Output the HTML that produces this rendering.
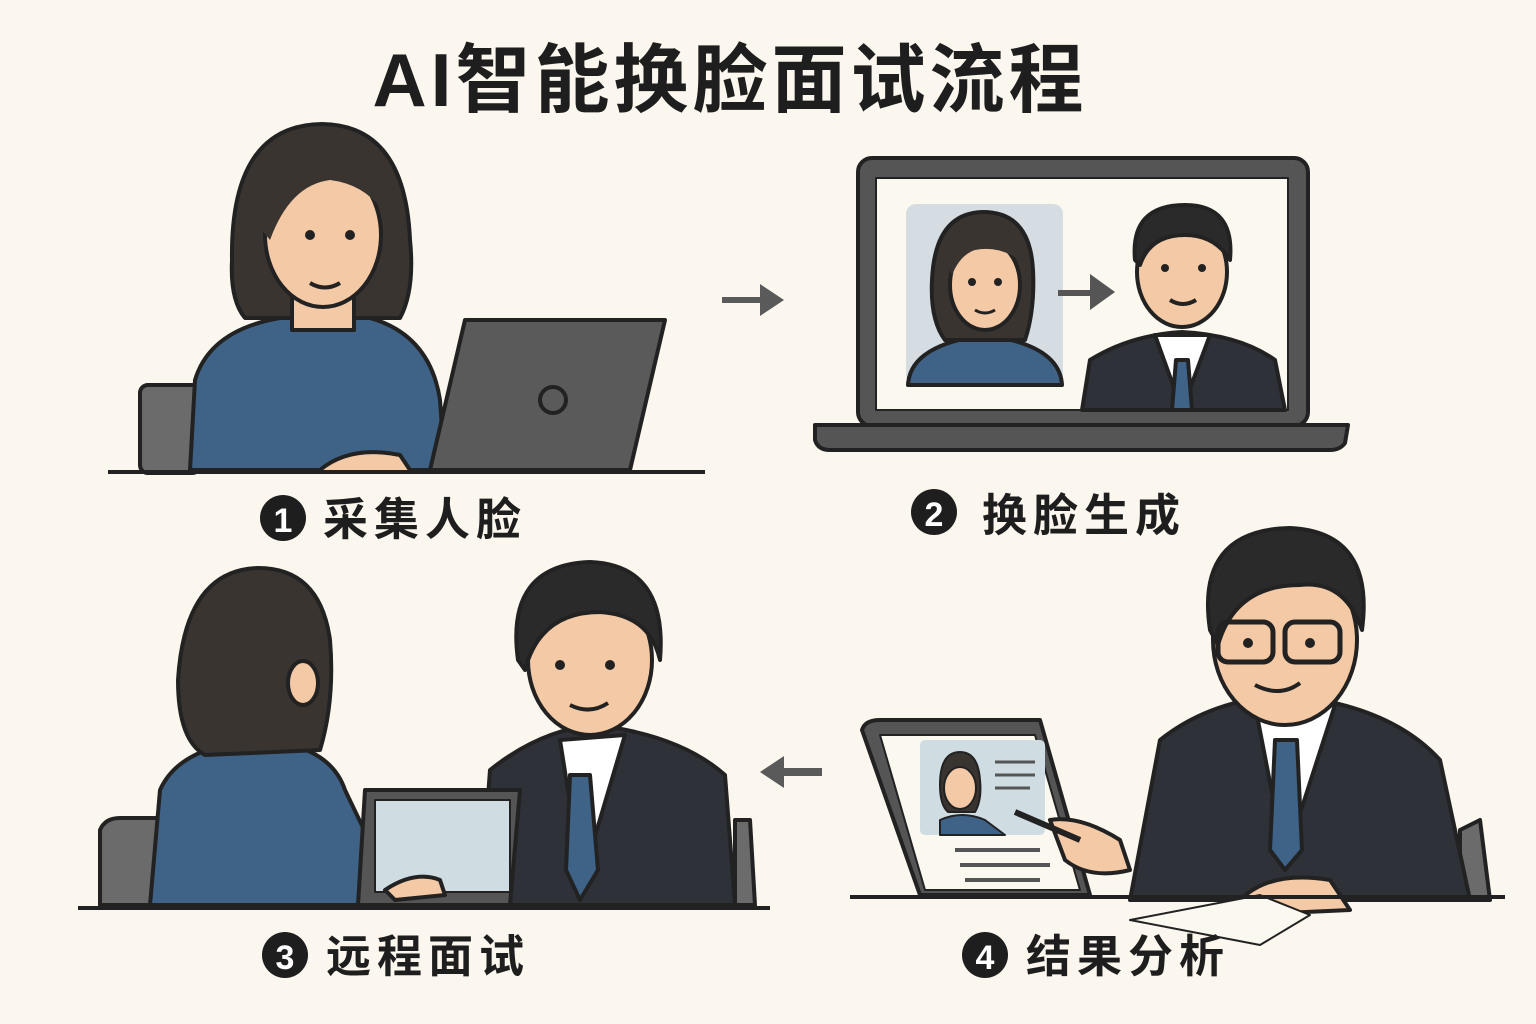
<!DOCTYPE html>
<html><head><meta charset="utf-8"><style>
html,body{margin:0;padding:0;background:#fbf7ee;}
svg{display:block}
text{font-family:"Liberation Sans","Noto Sans CJK SC",sans-serif;font-weight:bold;fill:#1e1e1e}
</style></head><body>
<svg width="1536" height="1024" viewBox="0 0 1536 1024" xmlns="http://www.w3.org/2000/svg">
<rect width="1536" height="1024" fill="#fbf7ee"/>
<text x="730" y="106" font-size="75" text-anchor="middle" letter-spacing="4">AI智能换脸面试流程</text>

<g stroke="#222" stroke-width="4" stroke-linejoin="round">
<!-- Panel 1 -->
<rect x="140" y="385" width="60" height="88" rx="8" fill="#6b6b6b"/>
<path d="M190 470 L195 380 Q210 330 280 318 L370 318 Q430 335 440 400 L445 470 Z" fill="#3f6287"/>
<path d="M322 124 Q230 125 232 260 Q230 300 245 318 L400 318 Q415 290 410 240 Q405 125 322 124Z" fill="#3a3431"/>
<rect x="292" y="280" width="62" height="50" fill="#f4c9a5"/>
<ellipse cx="323" cy="235" rx="58" ry="72" fill="#f4c9a5"/>
<path d="M262 230 Q265 160 325 158 Q385 160 388 220 Q370 185 330 180 Q290 185 270 240 Z" fill="#3a3431" stroke="none"/>
<circle cx="310" cy="235" r="5" fill="#222" stroke="none"/>
<circle cx="350" cy="235" r="5" fill="#222" stroke="none"/>
<path d="M310 283 Q325 292 340 283" fill="none"/>
<path d="M465 320 L665 320 L630 470 L430 470 Z" fill="#5a5a5a"/>
<circle cx="553" cy="400" r="13" fill="none"/>
<path d="M320 470 Q350 445 400 455 L410 470" fill="#f4c9a5"/>
<line x1="108" y1="472" x2="705" y2="472"/>
<!-- Panel 2 -->
<rect x="858" y="158" width="450" height="268" rx="14" fill="#555"/>
<rect x="876" y="178" width="412" height="232" fill="#fbf8f0" stroke-width="2"/>
<path d="M815 425 L1348 425 L1345 443 Q1340 450 1330 450 L830 450 Q818 450 815 440 Z" fill="#555"/>
<rect x="906" y="204" width="157" height="181" rx="10" fill="#d5dde3" stroke="none"/>
<path d="M908 385 Q910 345 985 335 Q1060 345 1062 385 Z" fill="#3f6287"/>
<path d="M983 212 Q935 213 932 280 Q930 320 945 340 L1025 340 Q1035 310 1033 270 Q1030 212 983 212Z" fill="#3a3431"/>
<ellipse cx="985" cy="285" rx="35" ry="45" fill="#f4c9a5"/>
<path d="M950 270 Q960 235 988 235 Q1015 237 1022 262 Q1000 245 975 250 Q960 255 952 275Z" fill="#3a3431" stroke="none"/>
<circle cx="972" cy="282" r="4" fill="#222" stroke="none"/><circle cx="998" cy="282" r="4" fill="#222" stroke="none"/>
<path d="M975 310 Q985 316 995 310" fill="none" stroke-width="3"/>
<path d="M1058 290 L1090 290 L1090 274 L1115 292 L1090 310 L1090 296 L1058 296Z" fill="#555" stroke="none"/>
<path d="M1082 410 L1090 360 Q1130 335 1182 332 Q1240 335 1275 360 L1285 410Z" fill="#2e3138"/>
<path d="M1155 335 L1182 410 L1210 335Z" fill="#fff"/>
<path d="M1176 360 L1188 360 L1192 410 L1172 410Z" fill="#3f6287"/>
<ellipse cx="1182" cy="272" rx="45" ry="55" fill="#f4c9a5"/>
<path d="M1135 260 Q1130 205 1185 205 Q1235 205 1230 260 Q1215 235 1185 235 Q1150 235 1140 265Z" fill="#2a2a2a"/>
<circle cx="1165" cy="268" r="4" fill="#222" stroke="none"/><circle cx="1202" cy="268" r="4" fill="#222" stroke="none"/>
<path d="M1170 300 Q1183 308 1196 300" fill="none"/>
<!-- Panel 3 -->
<path d="M100 830 Q105 818 120 818 L250 818 L270 905 L100 905Z" fill="#6b6b6b"/>
<path d="M150 905 L160 790 Q180 745 260 740 Q330 745 345 790 L400 905Z" fill="#3f6287"/>
<path d="M258 568 Q185 570 178 680 Q178 740 205 755 L320 750 Q335 700 330 640 Q320 568 258 568Z" fill="#3a3431"/>
<ellipse cx="303" cy="683" rx="15" ry="22" fill="#f4c9a5"/>
<path d="M735 820 L750 820 L755 905 L735 905Z" fill="#6b6b6b"/>
<path d="M480 905 L490 770 Q540 730 595 725 Q680 735 725 775 L735 905Z" fill="#2e3138"/>
<path d="M560 740 L582 880 L625 735Z" fill="#fff"/>
<path d="M570 775 L590 775 L598 870 L580 900 L566 870Z" fill="#3f6287"/>
<ellipse cx="590" cy="660" rx="62" ry="75" fill="#f4c9a5"/>
<path d="M518 660 Q505 565 590 562 Q668 565 660 660 Q650 615 600 612 Q540 612 525 670Z" fill="#2a2a2a"/>
<circle cx="560" cy="665" r="5" fill="#222" stroke="none"/><circle cx="610" cy="665" r="5" fill="#222" stroke="none"/>
<path d="M570 705 Q590 715 608 703" fill="none"/>
<path d="M365 790 L520 790 L510 905 L358 905Z" fill="#555"/>
<rect x="375" y="800" width="135" height="92" fill="#cfdde3" stroke-width="2"/>
<path d="M385 890 Q415 870 440 880 L445 895 L395 900Z" fill="#f4c9a5"/>
<line x1="78" y1="908" x2="770" y2="908"/>
<!-- Panel 4 -->
<path d="M1460 830 L1480 820 L1490 900 L1460 900Z" fill="#6b6b6b"/>
<path d="M1130 900 L1160 740 Q1210 700 1285 695 Q1390 705 1440 760 L1470 900Z" fill="#2e3138"/>
<path d="M1255 705 L1285 860 L1335 705Z" fill="#fff"/>
<path d="M1275 740 L1297 740 L1302 850 L1285 870 L1270 850Z" fill="#3f6287"/>
<ellipse cx="1285" cy="640" rx="72" ry="85" fill="#f4c9a5"/>
<path d="M1210 630 Q1195 530 1290 528 Q1375 532 1362 630 Q1345 580 1300 585 Q1235 585 1218 645Z" fill="#2a2a2a"/>
<rect x="1218" y="622" width="55" height="40" rx="10" fill="none" stroke-width="5"/>
<rect x="1285" y="622" width="55" height="40" rx="10" fill="none" stroke-width="5"/>
<circle cx="1248" cy="643" r="5" fill="#222" stroke="none"/><circle cx="1310" cy="643" r="5" fill="#222" stroke="none"/>
<path d="M1255 685 Q1280 698 1300 683" fill="none"/>
<path d="M862 730 Q865 720 880 720 L1040 720 L1090 895 L920 895Z" fill="#555"/>
<path d="M880 735 L1035 735 L1080 890 L925 890Z" fill="#fbf8f0" stroke-width="2"/>
<rect x="920" y="740" width="125" height="95" rx="5" fill="#cfdde3" stroke="none"/>
<path d="M960 752 Q940 752 940 785 Q940 805 948 812 L975 812 Q982 800 980 780 Q978 752 960 752Z" fill="#3a3431" stroke-width="2"/>
<ellipse cx="960" cy="788" rx="16" ry="21" fill="#f4c9a5" stroke-width="2"/>
<path d="M940 820 Q962 810 985 820 L1005 835 L940 835Z" fill="#3f6287" stroke-width="2"/>
<path d="M995 762 L1035 762 M995 775 L1035 775 M995 788 L1030 788" stroke="#555" stroke-width="3"/>
<path d="M955 850 L1040 850 M960 865 L1050 865 M965 880 L1040 880" stroke="#555"/>
<path d="M1050 820 Q1080 815 1120 840 L1130 870 Q1090 880 1065 860Z" fill="#f4c9a5"/>
<line x1="1015" y1="812" x2="1080" y2="840" stroke-width="6"/>
<path d="M1240 900 Q1270 870 1330 880 L1350 910 L1240 915Z" fill="#f4c9a5"/>
<path d="M1130 920 L1260 895 L1310 915 L1260 945Z" fill="#fbf8f0" stroke-width="2"/>
<line x1="850" y1="897" x2="1505" y2="897"/>
</g>

<!-- arrows -->
<path d="M722 297 L760 297 L760 284 L784 300 L760 316 L760 303 L722 303Z" fill="#5a5a5a"/>
<path d="M822 768 L784 768 L784 756 L760 772 L784 788 L784 776 L822 776Z" fill="#5a5a5a"/>

<!-- labels -->
<circle cx="283" cy="518" r="23" fill="#1e1e1e"/><text x="283" y="532" font-size="34" text-anchor="middle" style="fill:#fff">1</text>
<text x="323" y="535" font-size="45" letter-spacing="6">采集人脸</text>
<circle cx="934" cy="512" r="23" fill="#1e1e1e"/><text x="934" y="526" font-size="34" text-anchor="middle" style="fill:#fff">2</text>
<text x="982" y="531" font-size="45" letter-spacing="6">换脸生成</text>
<circle cx="285" cy="955" r="23" fill="#1e1e1e"/><text x="285" y="969" font-size="34" text-anchor="middle" style="fill:#fff">3</text>
<text x="326" y="972" font-size="45" letter-spacing="6">远程面试</text>
<circle cx="985" cy="955" r="23" fill="#1e1e1e"/><text x="985" y="969" font-size="34" text-anchor="middle" style="fill:#fff">4</text>
<text x="1026" y="972" font-size="45" letter-spacing="6">结果分析</text>
</svg>
</body></html>
